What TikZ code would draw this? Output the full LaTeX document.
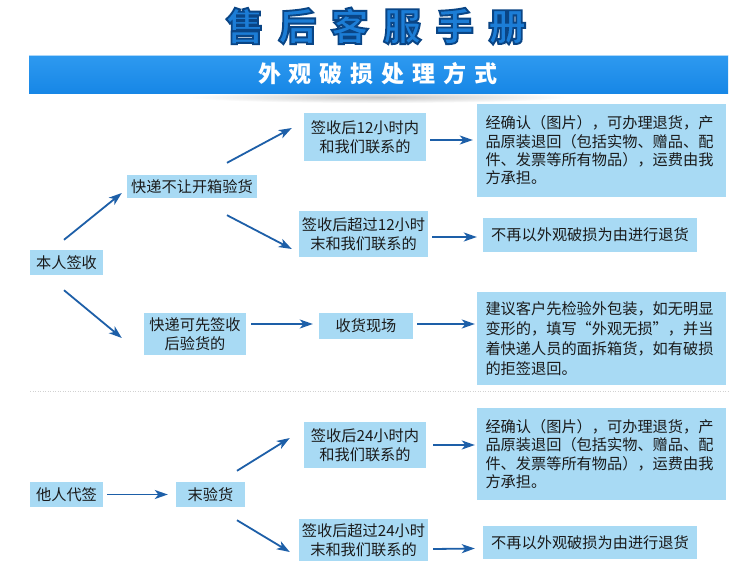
\documentclass[tikz,border=0pt]{standalone}
\usepackage{fontspec}
\newfontfamily\cjk{Noto Sans CJK SC}
\newfontfamily\titlefont{Noto Sans CJK SC}[FakeBold=5]
\usetikzlibrary{arrows.meta,calc}
\definecolor{boxblue}{HTML}{A8DAF4}
\definecolor{txt}{HTML}{1A1A1A}
\definecolor{arrblue}{HTML}{1D5FA8}
\definecolor{titleblue}{HTML}{1A72C8}
\definecolor{bannertop}{HTML}{2E9AF0}
\definecolor{bannerbot}{HTML}{1787E6}
\newcommand{\titletext}{售\hskip14.5pt 后\hskip14.5pt 客\hskip14.5pt 服\hskip14.5pt 手\hskip14.5pt 册}
\newcommand{\bannertext}{外\hskip8pt 观\hskip8pt 破\hskip8pt 损\hskip8pt 处\hskip8pt 理\hskip8pt 方\hskip8pt 式}
\begin{document}
\begin{tikzpicture}[x=1pt,y=-1pt,
  box/.style={fill=boxblue, inner sep=0pt, align=center, text=txt,
    font=\cjk\fontsize{15.2}{18.5}\selectfont},
  bigbox/.style={box, text width=232pt, inner xsep=8.5pt, align=left},
  arr/.style={-{Stealth[length=13pt,width=9pt,inset=3.5pt]}, line width=1.8pt, draw=arrblue},
  titlestyle/.style={inner sep=0pt, font=\titlefont\bfseries\fontsize{38}{38}\selectfont},
]
\fill[white] (0,0) rectangle (750,576);
\useasboundingbox (0,0) rectangle (750,576);

% title
\node[titlestyle, text=titleblue] (title) at (376,26)
  {\special{pdf:bcolor [0.11 0.49 0.84] [0.04 0.27 0.52]}\titletext\special{pdf:ecolor}};

% banner
\shade[inner color=gray!45, outer color=white] (378,97) ellipse (190 and 6);
\shade[top color=bannertop, bottom color=bannerbot] (29,55) rectangle (728,93);
\draw[white!60!bannertop, line width=1pt] (29,55.5) -- (728,55.5);
\node[inner sep=0pt, font=\cjk\bfseries\fontsize{23}{23}\selectfont, text=white] (banner) at (378,74) {\bannertext};

% separator
\draw[gray!35, dash pattern=on 1pt off 1.5pt, line width=0.6pt] (30,391) -- (728,391);

% nodes
\node[box, minimum width=73pt, minimum height=25pt] (A) at (66.5,262.5) {本人签收};
\node[box, minimum width=130pt, minimum height=23pt] (B) at (192,186.5) {快递不让开箱验货};
\node[box, minimum width=122pt, minimum height=48pt] (C) at (365,137) {签收后12小时内\\和我们联系的};
\node[box, minimum width=129pt, minimum height=46pt] (D) at (363.5,234) {签收后超过12小时\\末和我们联系的};
\node[bigbox, minimum height=93pt, font=\cjk\fontsize{15.2}{18.3}\selectfont] (E) at (601.5,150.5)
  {经确认（图片），可办理退货，产\\品原装退回（包括实物、赠品、配\\件、发票等所有物品），运费由我\\方承担。};
\node[box, minimum width=214pt, minimum height=34pt] (F) at (590,235) {不再以外观破损为由进行退货};

\node[box, minimum width=102pt, minimum height=42pt] (G) at (195,334) {快递可先签收\\后验货的};
\node[box, minimum width=94pt, minimum height=26pt] (H) at (366,326) {收货现场};
\node[bigbox, minimum height=93pt, font=\cjk\fontsize{15.2}{20}\selectfont] (I) at (601.5,338.5)
  {建议客户先检验外包装，如无明显\\变形的，填写“外观无损”，并当\\着快递人员的面拆箱货，如有破损\\的拒签退回。};

\node[box, minimum width=73pt, minimum height=25pt] (J) at (66.5,494.5) {他人代签};
\node[box, minimum width=69pt, minimum height=25pt] (K) at (210.5,494.5) {末验货};
\node[box, minimum width=122pt, minimum height=46pt] (L) at (365,445) {签收后24小时内\\和我们联系的};
\node[box, minimum width=129pt, minimum height=42pt] (M) at (363.5,540) {签收后超过24小时\\末和我们联系的};
\node[bigbox, minimum height=92pt, font=\cjk\fontsize{15.2}{18.3}\selectfont] (N) at (601.5,454)
  {经确认（图片），可办理退货，产\\品原装退回（包括实物、赠品、配\\件、发票等所有物品），运费由我\\方承担。};
\node[box, minimum width=214pt, minimum height=33pt] (O) at (590,542.5) {不再以外观破损为由进行退货};

% arrows
\draw[arr] ($(A.north)+(-2.5,-10)$) -- ($(B.west)+(-5,6.5)$);
\draw[arr] ($(B.north)+(35,-12)$) -- ($(C.west)+(-12,-9)$);
\draw[arr] ($(B.south)+(35,17)$) -- ($(D.west)+(-7,15)$);
\draw[arr] ($(C.east)+(4,3)$) -- ($(E.west)+(-4,-10.5)$);
\draw[arr] ($(D.east)+(4,3)$) -- ($(F.west)+(-6,2)$);
\draw[arr] ($(A.south)+(-2.5,15)$) -- ($(G.west)+(-22,4)$);
\draw[arr] ($(G.east)+(5,-10)$) -- ($(H.west)+(-6,-2)$);
\draw[arr] ($(H.east)+(4,-2)$) -- ($(I.west)+(-2,-14.5)$);
\draw[arr] ($(J.east)+(4,0)$) -- ($(K.west)+(-8,0)$);
\draw[arr] ($(K.north)+(26.5,-11)$) -- ($(L.west)+(-14,-7)$);
\draw[arr] ($(K.south)+(26.5,13)$) -- ($(M.west)+(-9,12)$);
\draw[arr] ($(L.east)+(7,0)$) -- ($(N.west)+(-2,-9)$);
\draw[arr] ($(M.east)+(5,9)$) -- ($(O.west)+(-8,6)$);
\end{tikzpicture}
\end{document}
